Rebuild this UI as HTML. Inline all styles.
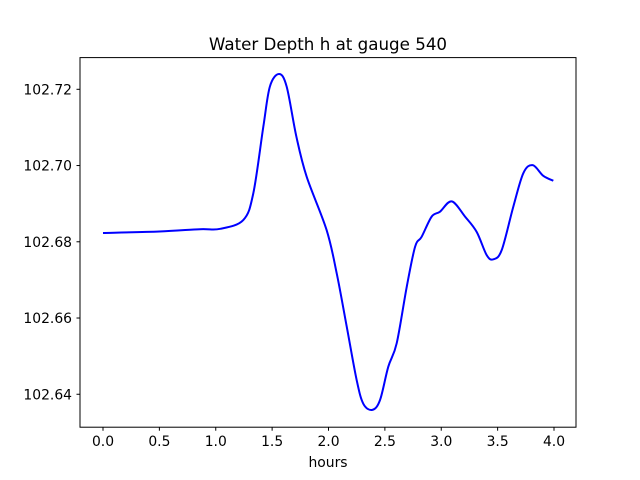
<!DOCTYPE html>
<html><head><meta charset="utf-8"><style>
body{margin:0;background:#fff}
svg{display:block;font-family:"DejaVu Sans","Liberation Sans",sans-serif}
</style></head><body>
<svg id="chart" width="640" height="480">
<rect width="640" height="480" fill="#fff"/>
<text x="328" y="50" font-size="16.7" text-anchor="middle">Water Depth h at gauge 540</text>
<g id="xt"></g><g id="yt"></g>
<path id="line" fill="none" stroke="#0000ff" stroke-width="2"/>
<rect x="80" y="57.6" width="496" height="369.6" fill="none" stroke="#000" stroke-width="1"/>
<text x="328" y="467" font-size="13.9" text-anchor="middle">hours</text>
</svg>
<script>
const hours=[0,0.5,0.86,1.04,1.244,1.333,1.422,1.48,1.561,1.629,1.715,1.806,1.983,2.073,2.162,2.25,2.309,2.389,2.457,2.53,2.605,2.694,2.768,2.826,2.915,2.989,3.093,3.211,3.314,3.403,3.462,3.536,3.639,3.728,3.811,3.905,3.994];
const depth=[102.6823,102.6827,102.6833,102.6834,102.6857,102.6927,102.7102,102.7207,102.7240,102.7207,102.7076,102.6971,102.6831,102.6717,102.6577,102.6437,102.6375,102.6359,102.6385,102.6472,102.6534,102.6682,102.6787,102.6813,102.6866,102.6879,102.6906,102.6866,102.6826,102.6765,102.6754,102.6778,102.6892,102.6980,102.7001,102.6973,102.6960];
const xTicks=[0,0.5,1,1.5,2,2.5,3,3.5,4];
const xTickLabels=["0.0","0.5","1.0","1.5","2.0","2.5","3.0","3.5","4.0"];
const yTicks=[102.64,102.66,102.68,102.70,102.72];
const yTickLabels=["102.64","102.66","102.68","102.70","102.72"];
const X=v=>103+v*112.75;
const Y=v=>89.3-(v-102.72)*3812;
const NS="http://www.w3.org/2000/svg";
const xt=document.getElementById('xt'),yt=document.getElementById('yt');
xTicks.forEach((t,i)=>{
 const l=document.createElementNS(NS,'line');
 l.setAttribute('x1',X(t));l.setAttribute('x2',X(t));l.setAttribute('y1',427.2);l.setAttribute('y2',430.7);l.setAttribute('stroke','#000');
 
 
 xt.appendChild(l);
 const s=document.createElementNS(NS,'text');
 s.setAttribute('x',X(t));s.setAttribute('y',446);s.setAttribute('font-size','13.9');s.setAttribute('text-anchor','middle');
 s.textContent=xTickLabels[i];
 
 
 xt.appendChild(s);
});
yTicks.forEach((t,i)=>{
 const l=document.createElementNS(NS,'line');
 l.setAttribute('x1',76.5);l.setAttribute('x2',80);l.setAttribute('y1',Y(t));l.setAttribute('y2',Y(t));l.setAttribute('stroke','#000');
 
 
 yt.appendChild(l);
 const s=document.createElementNS(NS,'text');
 s.setAttribute('x',72);s.setAttribute('y',Y(t)+5);s.setAttribute('font-size','13.9');s.setAttribute('text-anchor','end');
 s.textContent=yTickLabels[i];
 
 
 yt.appendChild(s);
});
const pts=hours.map((h,i)=>[X(h),Y(depth[i])]);
let d=`M${pts[0][0]},${pts[0][1]}`;
for(let i=0;i<pts.length-1;i++){
 const p0=pts[Math.max(0,i-1)],p1=pts[i],p2=pts[i+1],p3=pts[Math.min(pts.length-1,i+2)];
 const c1=[p1[0]+(p2[0]-p0[0])/6,p1[1]+(p2[1]-p0[1])/6];
 const c2=[p2[0]-(p3[0]-p1[0])/6,p2[1]-(p3[1]-p1[1])/6];
 d+=` C${c1[0]},${c1[1]} ${c2[0]},${c2[1]} ${p2[0]},${p2[1]}`;
}
document.getElementById('line').setAttribute('d',d);
</script>
</body></html>
